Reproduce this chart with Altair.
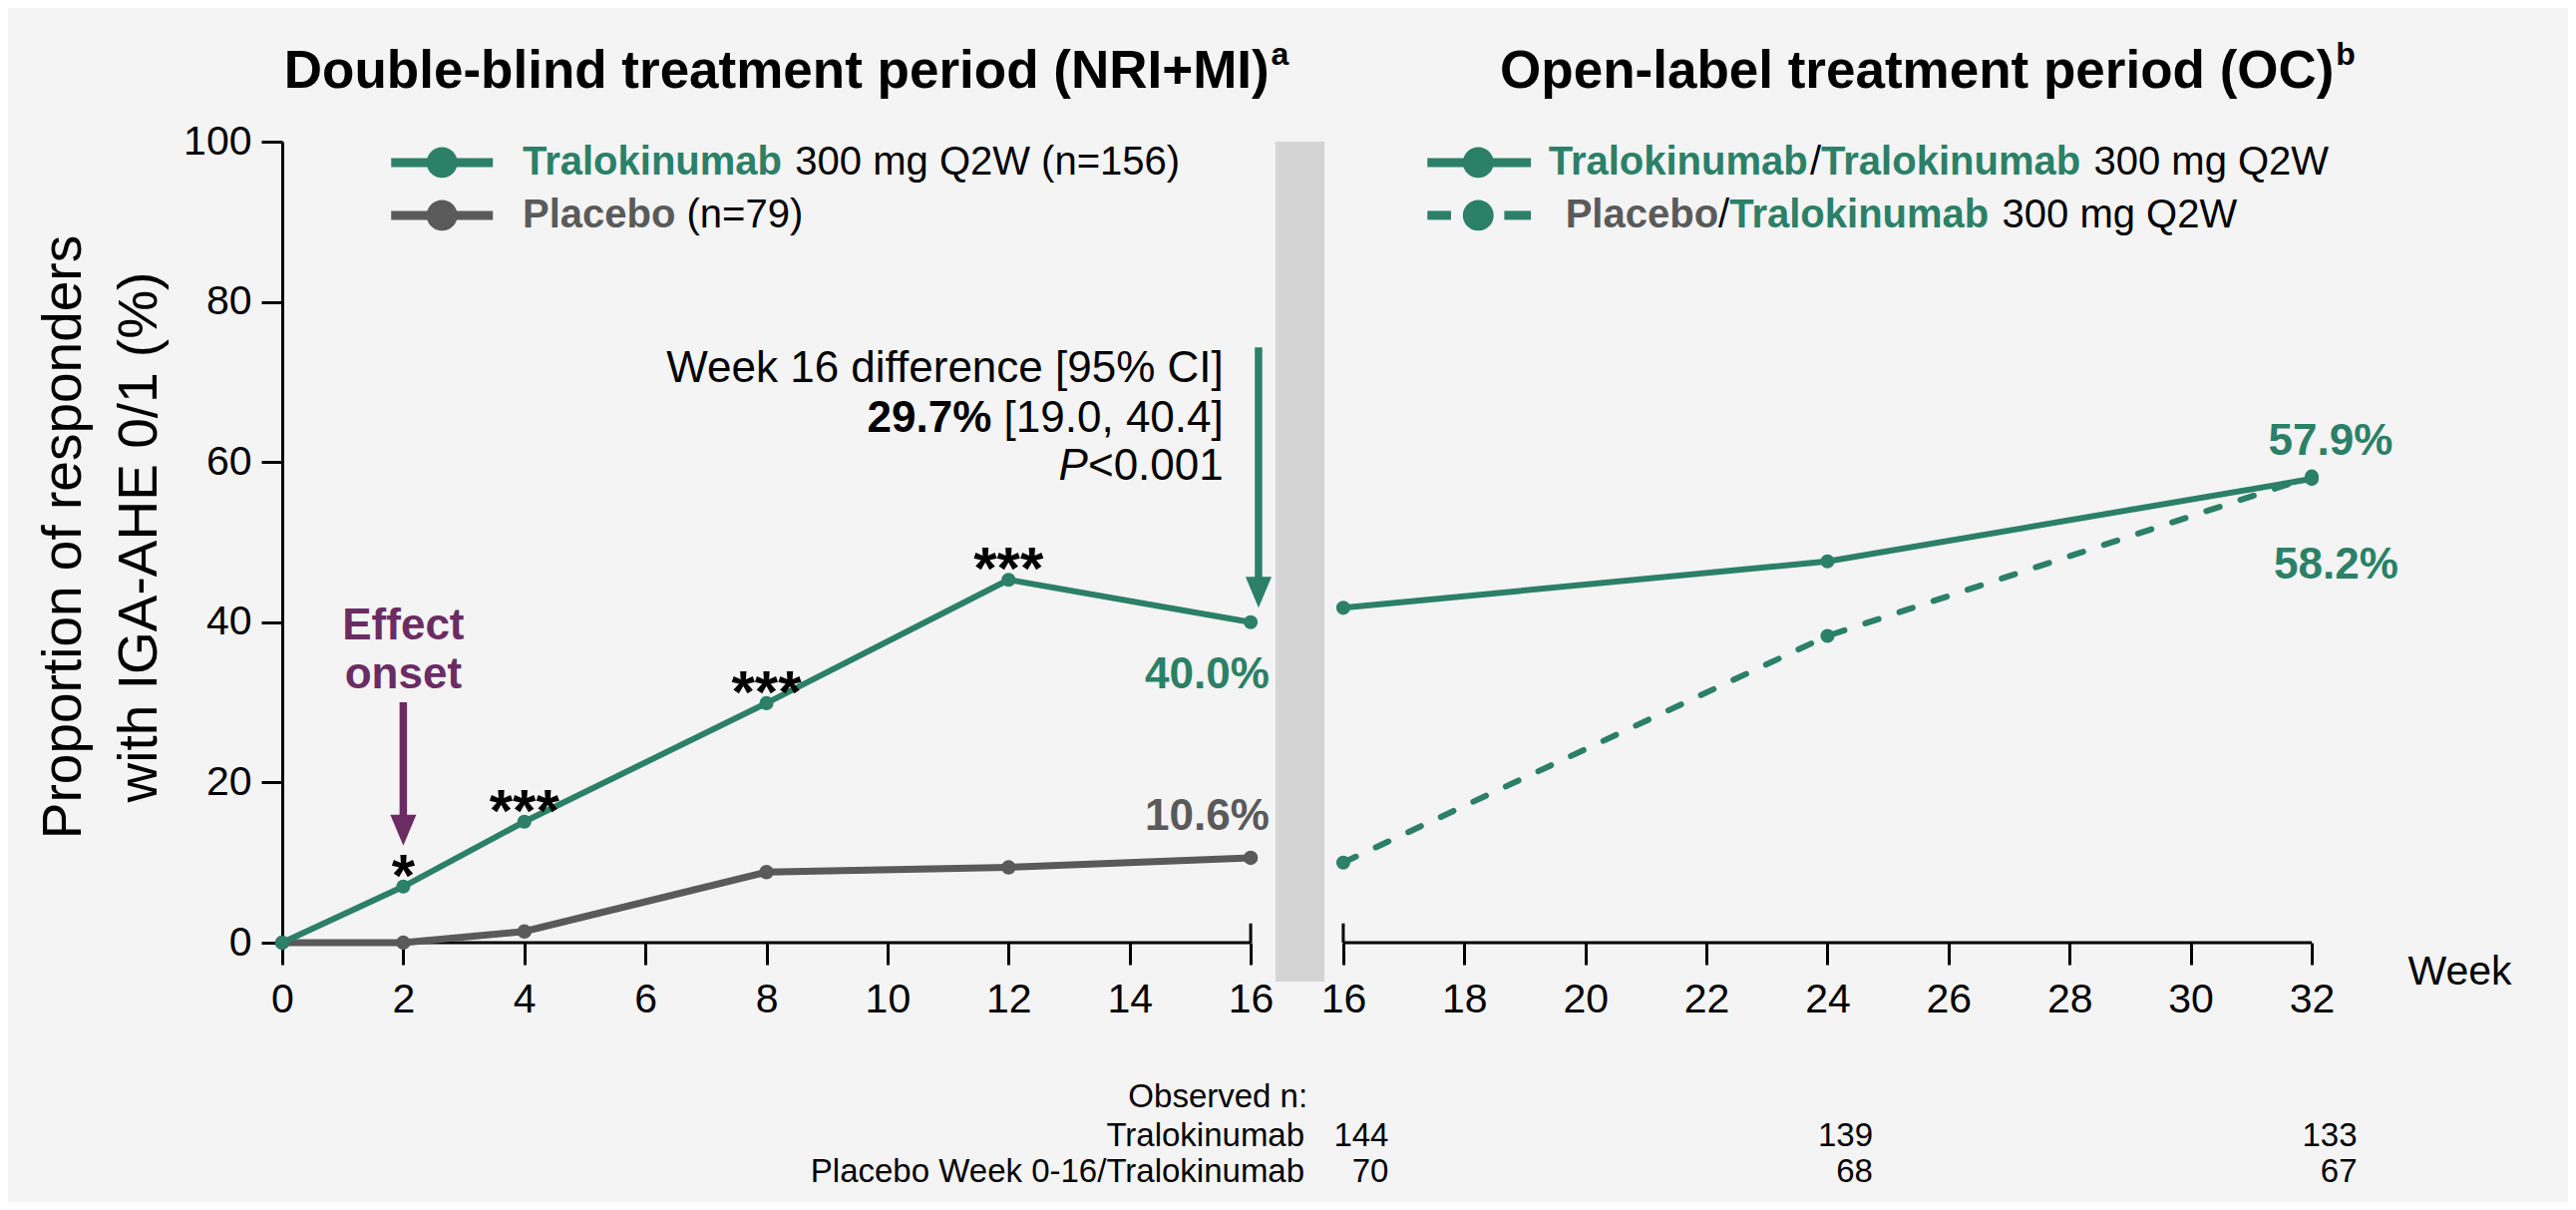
import altair as alt
import pandas as pd

FONT = "Liberation Sans, Arial, Helvetica, sans-serif"
GREEN = "#2b8067"
GRAY = "#5a5a5a"
PURPLE = "#6b2c63"
BLACK = "#000000"
BAND = "#d4d4d4"
BG = "#f4f4f4"

# ---------------- data ----------------
weeks_db = [0, 2, 4, 8, 12, 16]
tralo_db = [0.0, 7.0, 15.1, 29.9, 45.3, 40.0]
placebo_db = [0.0, 0.0, 1.4, 8.8, 9.4, 10.6]

weeks_ol = [16, 24, 32]
tralo_ol = [41.8, 47.6, 57.9]
placebo_ol = [10.0, 38.3, 58.2]

sig_weeks = [2, 4, 8, 12]
sig_marks = ["*", "***", "***", "***"]

obs_weeks = [16, 24, 32]
obs_tralo = [144, 139, 133]
obs_placebo = [70, 68, 67]

x_ticks_db = [0, 2, 4, 6, 8, 10, 12, 14, 16]
x_ticks_ol = [16, 18, 20, 22, 24, 26, 28, 30, 32]
y_ticks = [0, 20, 40, 60, 80, 100]

# ---------------- layout ----------------
GAP = 1.53            # break between the two periods (weeks)
X_MAX = 32 + GAP
W, H = 2035, 803
PXW = W / X_MAX       # px per week
PXY = H / 100.0       # px per percentage point


def ol(w):
    return w + GAP


REG = {' ': 278, '/': 278, '[': 278, ']': 278, '1': 556, '9': 556, '.': 278, '0': 556,
       ',': 278, '4': 556, '<': 584}
BOLD = {'T': 611, 'r': 389, 'a': 556, 'l': 278, 'o': 611, 'k': 556, 'i': 278, 'n': 611,
        'u': 611, 'm': 889, 'b': 611, 'P': 667, 'c': 556, 'e': 556, 'D': 722, '-': 333,
        'd': 611, 't': 333, 'p': 611, ' ': 278, '(': 333, ')': 333, 'N': 722, 'R': 722,
        'I': 278, '+': 584, 'M': 833, 'O': 778, 'C': 722}


def tw(s, fs, bold=False):
    tab = BOLD if bold else REG
    return sum(tab[c] for c in s) * fs / 1000.0 / PXW


xscale = alt.Scale(domain=[0, X_MAX], nice=False, zero=False)
yscale = alt.Scale(domain=[0, 100], nice=False, zero=False)
tick_pos = x_ticks_db + [ol(v) for v in x_ticks_ol]

x_axis = alt.Axis(values=tick_pos,
                  labelExpr="round(datum.value > 16.5 ? datum.value - %s : datum.value)" % GAP,
                  title=None, domain=False, grid=False, tickSize=22, tickWidth=3,
                  tickColor=BLACK, labelFontSize=41, labelColor=BLACK, labelFont=FONT,
                  labelPadding=15, labelFlush=False, labelOverlap=False)
y_axis = alt.Axis(values=y_ticks, title=["Proportion of responders", "with IGA-AHE 0/1 (%)"],
                  domain=True, domainColor=BLACK, domainWidth=3, grid=False,
                  tickSize=21, tickWidth=3, tickColor=BLACK, labelFontSize=41,
                  labelColor=BLACK, labelFont=FONT, labelPadding=10,
                  titleFont=FONT, titleFontSize=55, titleFontWeight="normal", titleColor=BLACK,
                  titleX=-220, titleY=396, titleBaseline="middle", titleAlign="center",
                  titleAngle=270, titleLineHeight=76)


def X(f="pos"):
    return alt.X(f + ":Q", scale=xscale, axis=x_axis)


def Y(f="y"):
    return alt.Y(f + ":Q", scale=yscale, axis=y_axis)


layers = []

# gray band between periods
band = pd.DataFrame({"pos": [16.41], "pos2": [17.22], "y": [-4.86], "y2": [100]})
layers.append(alt.Chart(band).mark_rect(color=BAND).encode(
    x=X(), x2="pos2:Q", y=Y(), y2="y2:Q"))

# broken x axis baselines and end caps
axis_df = pd.DataFrame({"pos": [0, ol(16), 16, ol(16)], "pos2": [16, ol(32), 16, ol(16)],
                        "y": [0, 0, 0, 0], "y2": [0, 0, 2.4, 2.4]})
layers.append(alt.Chart(axis_df).mark_rule(color=BLACK, strokeWidth=3).encode(
    x=X(), x2="pos2:Q", y=Y(), y2="y2:Q"))

# series
df_tdb = pd.DataFrame({"pos": weeks_db, "y": tralo_db})
df_pdb = pd.DataFrame({"pos": weeks_db, "y": placebo_db})
df_tol = pd.DataFrame({"pos": [ol(w) for w in weeks_ol], "y": tralo_ol})
df_pol = pd.DataFrame({"pos": [ol(w) for w in weeks_ol], "y": placebo_ol})

layers.append(alt.Chart(df_pdb).mark_line(color=GRAY, strokeWidth=7).encode(x=X(), y=Y()))
layers.append(alt.Chart(df_pol).mark_line(color=GREEN, strokeWidth=6, strokeDash=[14, 22],
                                          strokeCap="round").encode(x=X(), y=Y()))
layers.append(alt.Chart(df_tdb).mark_line(color=GREEN, strokeWidth=6).encode(x=X(), y=Y()))
layers.append(alt.Chart(df_tol).mark_line(color=GREEN, strokeWidth=6).encode(x=X(), y=Y()))
layers.append(alt.Chart(df_pdb).mark_circle(color=GRAY, size=210, opacity=1).encode(x=X(), y=Y()))
for d in (df_tdb, df_tol, df_pol):
    layers.append(alt.Chart(d).mark_circle(color=GREEN, size=200, opacity=1).encode(x=X(), y=Y()))

# legend symbols
LEG_Y1, LEG_Y2 = 97.4, 90.8
leg_lines = pd.DataFrame({
    "pos": [1.80, 1.80, 18.92, 18.92, 20.19],
    "pos2": [3.48, 3.48, 20.63, 19.31, 20.63],
    "y": [LEG_Y1, LEG_Y2, LEG_Y1, LEG_Y2, LEG_Y2],
    "color": [GREEN, GRAY, GREEN, GREEN, GREEN]})
layers.append(alt.Chart(leg_lines).mark_rule(strokeWidth=9).encode(
    x=X(), x2="pos2:Q", y=Y(), color=alt.Color("color:N", scale=None)))
leg_dots = pd.DataFrame({"pos": [2.64, 2.64, 19.76, 19.76], "y": [LEG_Y1, LEG_Y2, LEG_Y1, LEG_Y2],
                         "color": [GREEN, GRAY, GREEN, GREEN]})
layers.append(alt.Chart(leg_dots).mark_circle(size=950, opacity=1).encode(
    x=X(), y=Y(), color=alt.Color("color:N", scale=None)))


def text_layer(df, **props):
    return alt.Chart(df).mark_text(font=FONT, **props).encode(
        x=X(), y=Y(), text="text:N", color=alt.Color("color:N", scale=None))


# legend texts
LFS = 40
lx = 3.97
rx1 = 20.92
rx2 = 21.20
sp = tw(" ", LFS)
leg_bold = pd.DataFrame({
    "pos": [lx, lx, rx1, rx1 + tw("Tralokinumab", LFS, True) + tw("/", LFS),
            rx2, rx2 + tw("Placebo", LFS, True) + tw("/", LFS)],
    "y": [LEG_Y1, LEG_Y2, LEG_Y1, LEG_Y1, LEG_Y2, LEG_Y2],
    "text": ["Tralokinumab", "Placebo", "Tralokinumab", "Tralokinumab", "Placebo", "Tralokinumab"],
    "color": [GREEN, GRAY, GREEN, GREEN, GRAY, GREEN]})
leg_reg = pd.DataFrame({
    "pos": [lx + tw("Tralokinumab", LFS, True) + sp,
            lx + tw("Placebo", LFS, True) + sp,
            rx1 + tw("Tralokinumab", LFS, True),
            rx1 + 2 * tw("Tralokinumab", LFS, True) + tw("/", LFS) + sp,
            rx2 + tw("Placebo", LFS, True),
            rx2 + tw("Placebo", LFS, True) + tw("/", LFS) + tw("Tralokinumab", LFS, True) + sp],
    "y": [LEG_Y1, LEG_Y2, LEG_Y1, LEG_Y1, LEG_Y2, LEG_Y2],
    "text": ["300 mg Q2W (n=156)", "(n=79)", "/", "300 mg Q2W", "/", "300 mg Q2W"],
    "color": [BLACK] * 6})
layers.append(text_layer(leg_bold, fontSize=LFS, fontWeight="bold", align="left", baseline="middle"))
layers.append(text_layer(leg_reg, fontSize=LFS, align="left", baseline="middle"))

# panel titles
TFS = 53
t1 = "Double-blind treatment period (NRI+MI)"
t2 = "Open-label treatment period (OC)"
t1x, t2x = 0.03, 20.12
titles = pd.DataFrame({"pos": [t1x, t2x], "y": [106.7, 106.7], "text": [t1, t2],
                       "color": [BLACK, BLACK]})
sups = pd.DataFrame({"pos": [t1x + tw(t1, TFS, True) + 0.03, t2x + tw(t2, TFS, True) + 0.03],
                     "y": [109.6, 109.6], "text": ["a", "b"], "color": [BLACK, BLACK]})
layers.append(text_layer(titles, fontSize=TFS, fontWeight="bold", align="left", baseline="alphabetic"))
layers.append(text_layer(sups, fontSize=32, fontWeight="bold", align="left", baseline="alphabetic"))

# week 16 difference annotation
AFS = 44
ax_r = 15.55
ann_reg = pd.DataFrame({"pos": [ax_r, ax_r, ax_r], "y": [71.6, 65.4, 59.4],
                        "text": ["Week 16 difference [95% CI]", "[19.0, 40.4]", "<0.001"],
                        "color": [BLACK] * 3})
ann_bold = pd.DataFrame({"pos": [ax_r - tw(" [19.0, 40.4]", AFS)], "y": [65.4],
                         "text": ["29.7%"], "color": [BLACK]})
ann_it = pd.DataFrame({"pos": [ax_r - tw("<0.001", AFS)], "y": [59.4], "text": ["P"],
                       "color": [BLACK]})
layers.append(text_layer(ann_reg, fontSize=AFS, align="right", baseline="middle"))
layers.append(text_layer(ann_bold, fontSize=AFS, fontWeight="bold", align="right", baseline="middle"))
layers.append(text_layer(ann_it, fontSize=AFS, fontStyle="italic", align="right", baseline="middle"))

# effect onset
eff = pd.DataFrame({"pos": [2.0, 2.0], "y": [39.5, 33.4], "text": ["Effect", "onset"],
                    "color": [PURPLE, PURPLE]})
layers.append(text_layer(eff, fontSize=AFS, fontWeight="bold", align="center", baseline="middle"))

# significance asterisks
sig = pd.DataFrame({"pos": sig_weeks, "y": [tralo_db[weeks_db.index(w)] for w in sig_weeks],
                    "text": sig_marks, "color": [BLACK] * 4})
layers.append(text_layer(sig, fontSize=60, fontWeight="bold", align="center",
                         baseline="alphabetic", dy=9))

# value labels
vals = pd.DataFrame({"pos": [16.31, 16.31, 34.87, 34.96], "y": [33.4, 15.7, 62.5, 47.1],
                     "text": ["40.0%", "10.6%", "57.9%", "58.2%"],
                     "color": [GREEN, GRAY, GREEN, GREEN]})
layers.append(text_layer(vals, fontSize=AFS, fontWeight="bold", align="right", baseline="middle"))

# observed n table
NFS = 33
obs_lab = pd.DataFrame({"pos": [16.94, 16.89, 16.89], "y": [-19.3, -24.2, -28.6],
                        "text": ["Observed n:", "Tralokinumab", "Placebo Week 0-16/Tralokinumab"],
                        "color": [BLACK] * 3})
obs_num = pd.DataFrame({"pos": [ol(w) + 0.75 for w in obs_weeks] * 2,
                        "y": [-24.2] * 3 + [-28.6] * 3,
                        "text": [str(v) for v in obs_tralo + obs_placebo],
                        "color": [BLACK] * 6})
layers.append(text_layer(obs_lab, fontSize=NFS, align="right", baseline="middle"))
layers.append(text_layer(obs_num, fontSize=NFS, align="right", baseline="middle"))

# x axis title
wk = pd.DataFrame({"pos": [35.12], "y": [-3.7], "text": ["Week"], "color": [BLACK]})
layers.append(text_layer(wk, fontSize=41, align="left", baseline="middle"))

# arrows
HEAD = "M-0.84,-1L0.84,-1L0,1Z"
shafts = pd.DataFrame({"pos": [2.0, 16.13], "y": [30.0, 74.3], "y2": [14.0, 43.7],
                       "color": [PURPLE, GREEN]})
layers.append(alt.Chart(shafts).mark_rule(strokeWidth=7.5).encode(
    x=X(), y=Y(), y2="y2:Q", color=alt.Color("color:N", scale=None)))
heads = pd.DataFrame({"pos": [2.0, 16.13], "y": [12.1, 41.8], "color": [PURPLE, GREEN]})
layers.append(alt.Chart(heads).mark_point(shape=HEAD, filled=True, size=961, opacity=1,
                                          strokeWidth=0, yOffset=-15.5).encode(
    x=X(), y=Y(), fill=alt.Fill("color:N", scale=None)))

chart = alt.layer(*layers).properties(
    width=W, height=H,
    padding={"left": 275, "top": 134, "right": 257, "bottom": 260},
    autosize=alt.AutoSizeParams(type="none"),
    background=BG,
).configure_view(stroke=None)

chart.save("out.html", embed_options={"renderer": "svg", "actions": False})
